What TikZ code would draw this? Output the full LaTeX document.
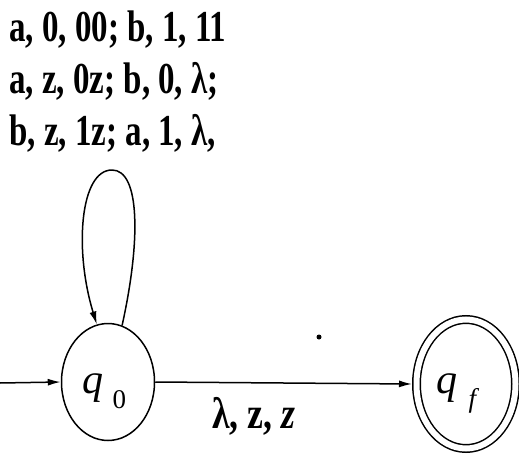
\documentclass[tikz,border=0pt]{standalone}
\usepackage{fontspec}
\setmainfont{Liberation Serif}
\usetikzlibrary{arrows.meta}
\usetikzlibrary{shapes.geometric}

\begin{document}
\begin{tikzpicture}[x=1pt,y=-1pt,
  >={Latex[length=13pt,width=7pt]},
  state/.style={draw,ellipse,line width=1.5pt,inner sep=0pt,
    minimum width=93pt,minimum height=117pt},
  final/.style={state,double,double distance=6pt,outer sep=4.5pt,
    minimum width=99pt,minimum height=129pt},
  trans/.style={->,line width=1.5pt},
  lbl/.style={anchor=base west,inner sep=0pt,
    font=\fontsize{34}{34}\selectfont\bfseries},
  qname/.style={font=\fontsize{42}{42}\selectfont\itshape},
  qsub/.style={font=\fontsize{27}{27}\selectfont}]
\useasboundingbox (0,0) rectangle (519,457);

% states
\node[state] (q0) at (108,382) {};
\node[final] (qf) at (466,384) {};
\node[qname,anchor=base east] (q0q) at (107,393) {q};
\node[qsub,anchor=base west] (q0s) at (109,408) {0};
\node[qname,anchor=base east] (qfq) at (461,393) {q};
\node[qsub,anchor=base west] (qfs) at (465,407) {\itshape f};

% loop labels
\node[lbl] (l1) at (9,42) {\scalebox{0.97}[1.3]{a, 0, 00; b, 1, 11}};
\node[lbl] (l2) at (9,94) {\scalebox{0.97}[1.3]{a, z, 0z; b, 0, λ;}};
\node[lbl] (l3) at (9,146) {\scalebox{0.97}[1.3]{b, z, 1z; a, 1, λ,}};

% start arrow
\coordinate (start) at (0,383);
\draw[trans] (start) -- (q0.west);

% self loop
\coordinate (looptop) at (112,170);
\draw[line width=1.5pt] (q0.76) .. controls (141,240) and (140,170) .. (looptop);
\draw[trans] (looptop) .. controls (80,170) and (74,250) .. (q0.101);

% q0 -> qf
\draw[trans] (q0.east) -- (qf.west);
\node[lbl] (t1) at (212,428) {\scalebox{1.05}[1.3]{λ, z, \textit{z}}};

%\fill (319,337) circle (2.5pt);
\fill (319,337) circle (2.5pt);
\end{tikzpicture}
\end{document}
